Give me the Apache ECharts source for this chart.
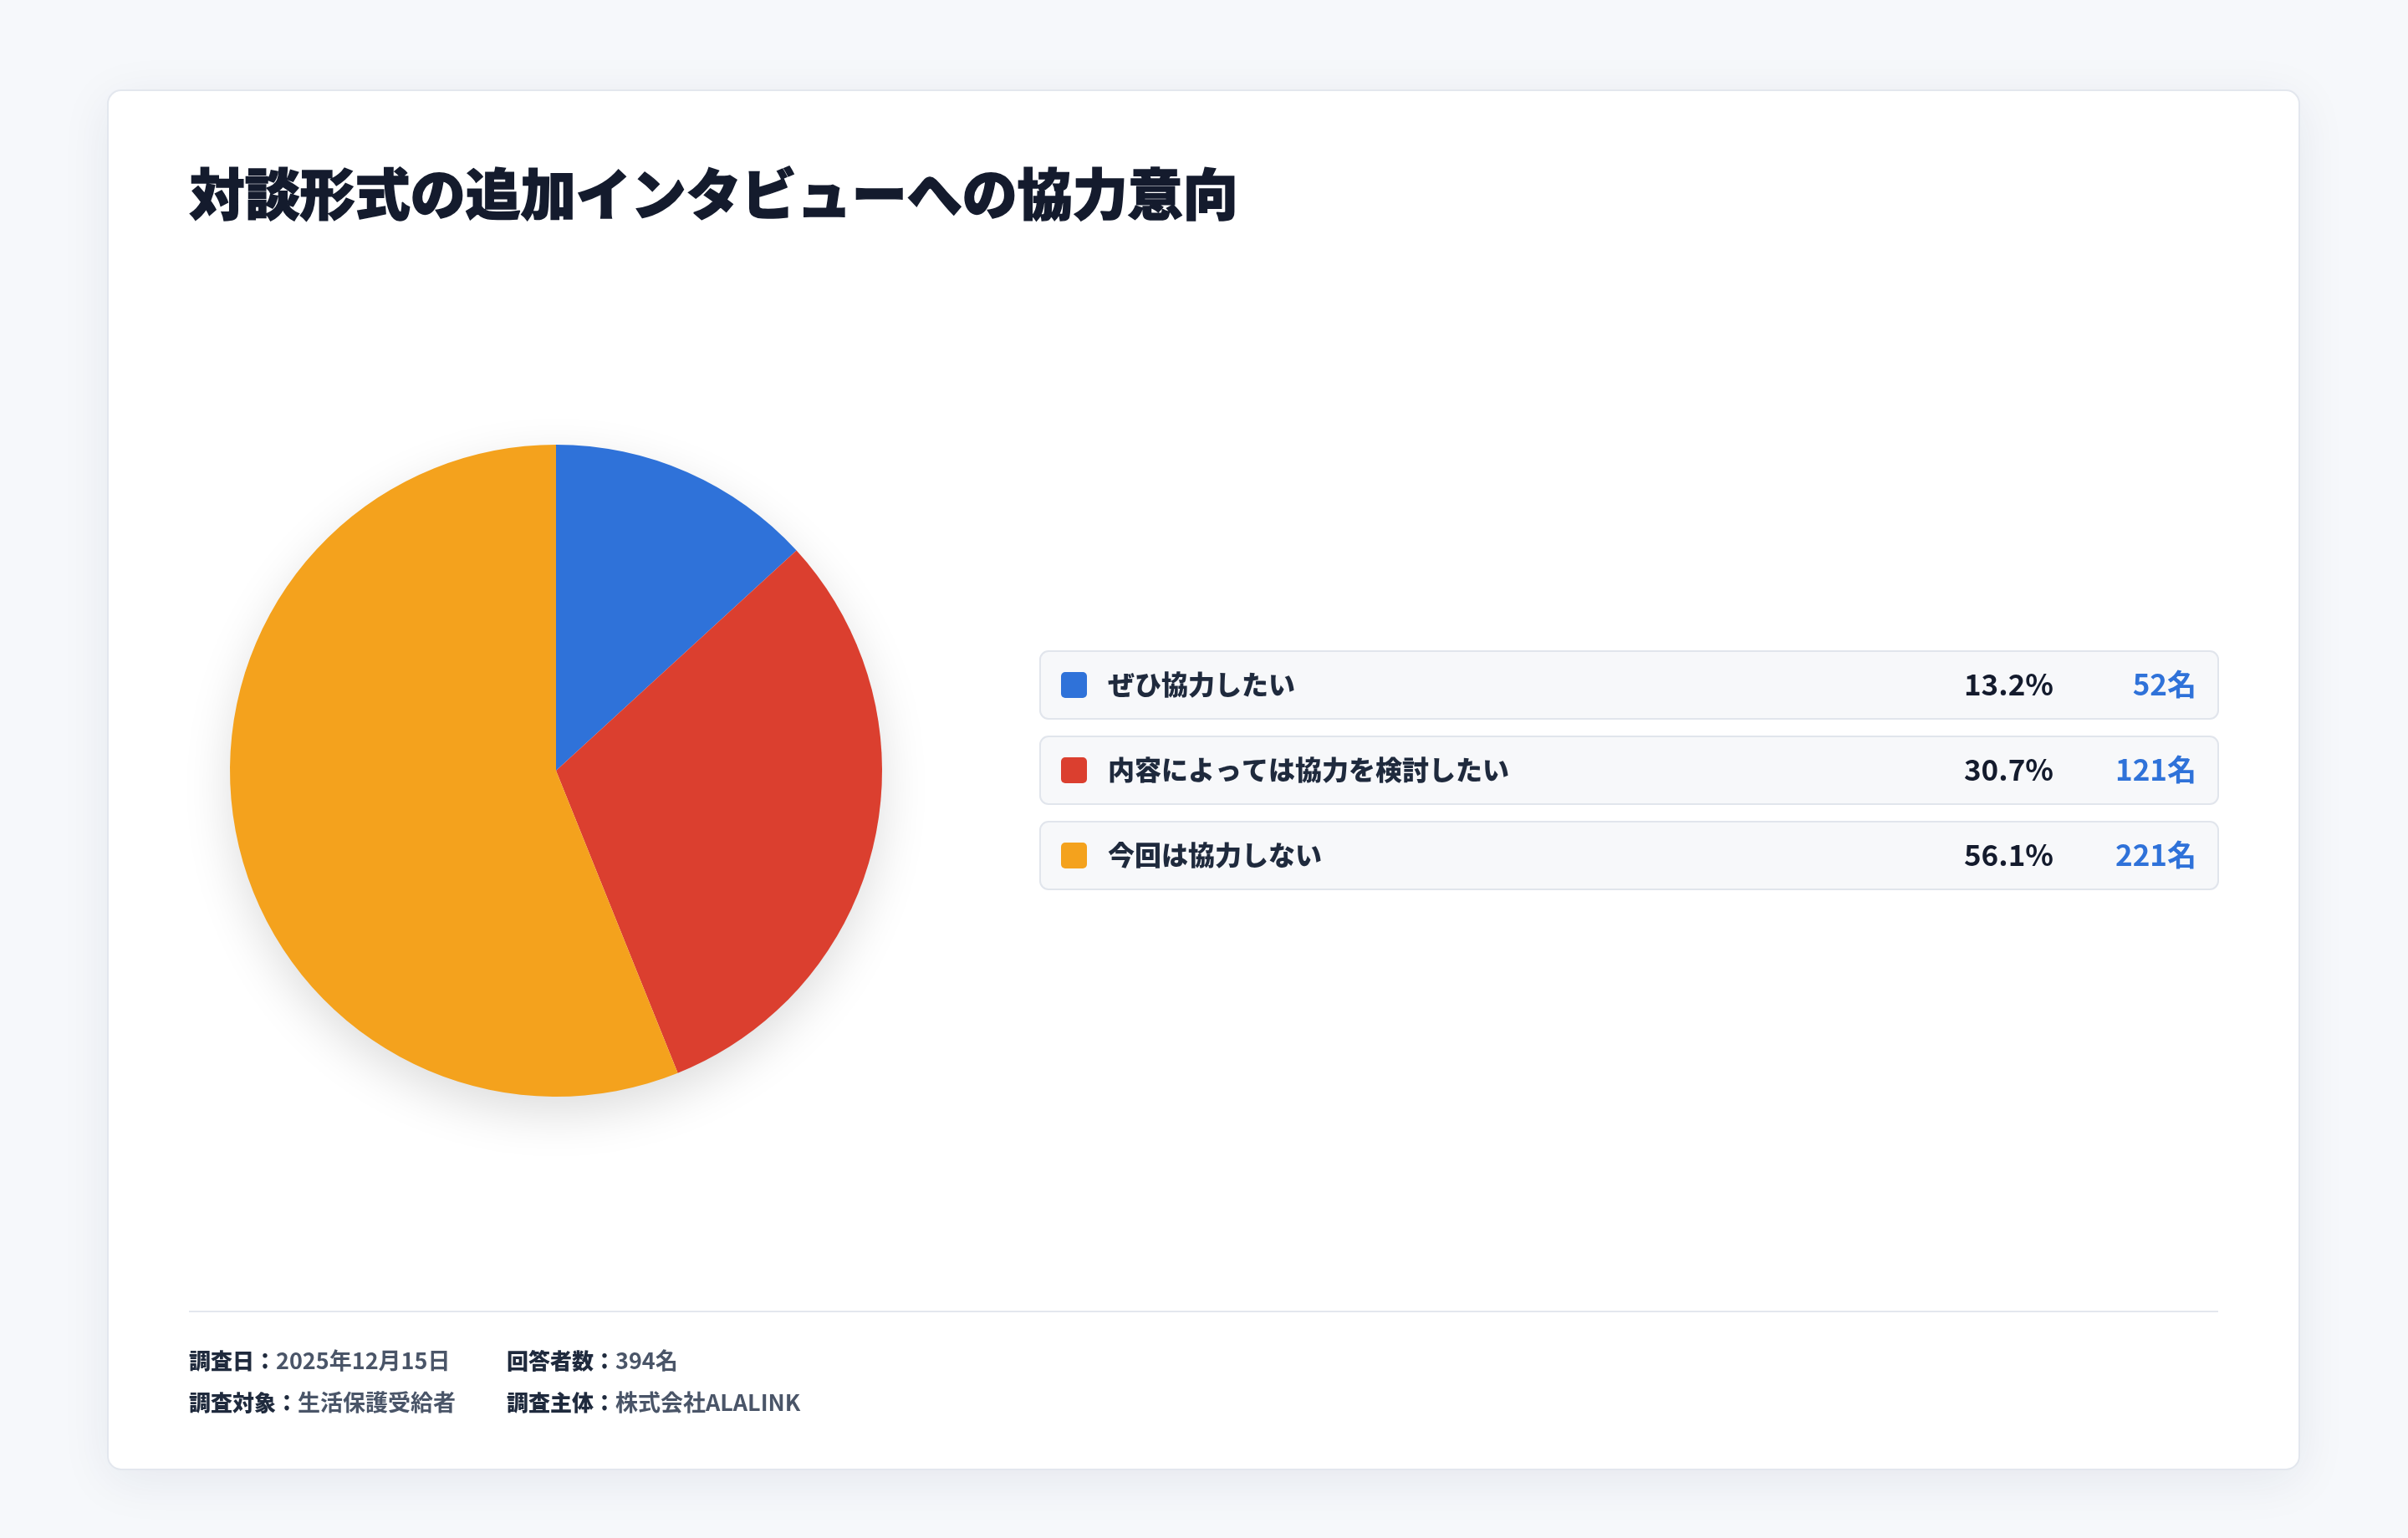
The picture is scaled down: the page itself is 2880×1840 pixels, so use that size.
<!DOCTYPE html>
<html>
<head>
<meta charset="utf-8">
<script src="https://cdn.jsdelivr.net/npm/echarts@6/dist/echarts.min.js"></script>
<style>
  html, body { margin: 0; padding: 0; background: #f6f8fb; }
  #chart { width: 2880px; height: 1840px; }
</style>
</head>
<body>
<div id="chart"></div>
<script>
var categories = ['ぜひ協力したい', '内容によっては協力を検討したい', '今回は協力しない'];
var counts = [52, 121, 221];
var colors = ['#2f72d9', '#db3f2f', '#f4a21d'];
var title = '対談形式の追加インタビューへの協力意向';
var footerLines = [
    [['調査日：', '2025年12月15日'], ['回答者数：', '394名']],
    [['調査対象：', '生活保護受給者'], ['調査主体：', '株式会社ALALINK']]
];

var FONT = '"Noto Sans CJK JP", "Noto Sans", sans-serif';
var chart = echarts.init(document.getElementById('chart'));
var total = counts.reduce(function (a, b) { return a + b; }, 0);

var graphics = [];
// card
graphics.push({
    type: 'rect', z: 0,
    shape: { x: 129, y: 108, width: 2621, height: 1650, r: 16 },
    style: { fill: '#ffffff', stroke: '#e3e7ee', lineWidth: 2,
        shadowBlur: 60, shadowColor: 'rgba(20,40,80,0.08)', shadowOffsetY: 12 }
});
graphics.push({
    type: 'text', z: 2, left: 226, top: 198,
    style: { text: title, font: '900 66px ' + FONT, fill: '#141b2d', stroke: '#141b2d', lineWidth: 1.5 }
});
// pie shadow disk
graphics.push({
    type: 'circle', z: 1,
    shape: { cx: 665, cy: 922, r: 388 },
    style: { fill: '#ffffff', shadowBlur: 60, shadowColor: 'rgba(0,0,0,0.14)', shadowOffsetY: 20 }
});

// legend rows
categories.forEach(function (name, i) {
    var y = 779 + i * 102;
    graphics.push({
        type: 'rect', z: 2,
        shape: { x: 1244, y: y, width: 1409, height: 81, r: 10 },
        style: { fill: '#f7f8fa', stroke: '#e1e5ec', lineWidth: 2 }
    });
    graphics.push({
        type: 'rect', z: 3,
        shape: { x: 1269, y: y + 25, width: 31, height: 31, r: 5 },
        style: { fill: colors[i] }
    });
    graphics.push({
        type: 'text', z: 3, x: 1325, y: y + 40,
        style: { text: name, font: '900 32px ' + FONT, fill: '#1f2a3d', textVerticalAlign: 'middle' }
    });
    graphics.push({
        type: 'text', z: 3, x: 2456, y: y + 40,
        style: { text: (counts[i] / total * 100).toFixed(1) + '%', font: 'bold 35px ' + FONT,
            fill: '#141b2d', textAlign: 'right', textVerticalAlign: 'middle' }
    });
    graphics.push({
        type: 'text', z: 3, x: 2627, y: y + 40,
        style: { text: counts[i] + '名', font: 'bold 35px ' + FONT,
            fill: '#2f72d9', textAlign: 'right', textVerticalAlign: 'middle' }
    });
});

// footer
graphics.push({
    type: 'line', z: 2,
    shape: { x1: 226, y1: 1569, x2: 2653, y2: 1569 },
    style: { stroke: '#e3e7ee', lineWidth: 2 }
});
footerLines.forEach(function (line, r) {
    line.forEach(function (pair, c) {
        graphics.push({
            type: 'text', z: 3, x: 226 + c * 380, y: 1628 + r * 50,
            style: {
                text: '{k|' + pair[0] + '}{v|' + pair[1] + '}',
                textVerticalAlign: 'middle',
                rich: {
                    k: { font: '900 26px ' + FONT, fill: '#1f2a3d' },
                    v: { font: 'bold 27px ' + FONT, fill: '#4a5568' }
                }
            }
        });
    });
});

chart.setOption({
    backgroundColor: '#f6f8fb',
    animation: false,
    graphic: graphics,
    series: [{
        type: 'pie',
        z: 5,
        center: [665, 922],
        radius: 390,
        startAngle: 90,
        label: { show: false },
        labelLine: { show: false },
        emphasis: { disabled: true },
        itemStyle: { borderWidth: 0 },
        data: categories.map(function (n, i) {
            return { name: n, value: counts[i], itemStyle: { color: colors[i] } };
        })
    }]
});
</script>
</body>
</html>
